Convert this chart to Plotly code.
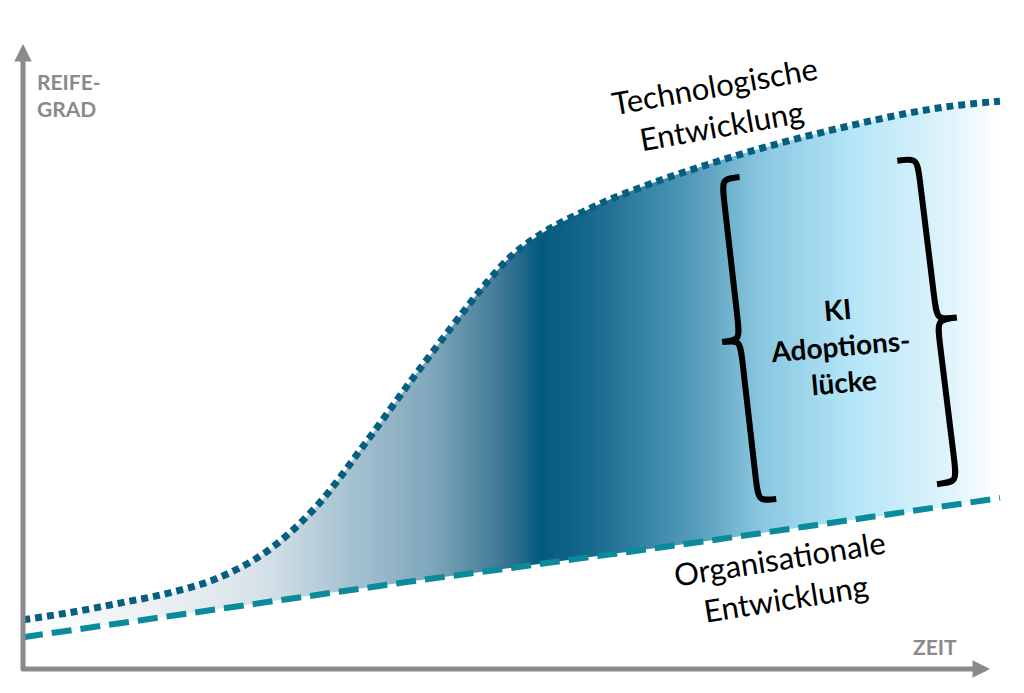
import numpy as np
import plotly.graph_objects as go

# Zeit (0-100) und Reifegrad (0-100)
zeit = [0, 5, 10, 15, 20, 25, 30, 35, 40, 45, 47.5, 50, 52.5, 55, 57.5, 60,
        65, 70, 75, 80, 85, 90, 95, 100]
tech_reife = [7.9, 9.1, 10.6, 12.2, 14.6, 18.9, 26.0, 36.1, 46.8, 57.1, 62.0, 66.2, 69.2, 71.5,
              73.4, 75.2, 78.2, 80.8, 83.2, 85.3, 87.2, 88.9, 90.2, 91.0]
org_zeit = [0, 10, 20, 30, 40, 50, 60, 70, 80, 90, 100]
org_reife = [5.1, 7.4, 9.6, 11.9, 14.1, 16.2, 18.3, 20.5, 22.8, 25.0, 27.4]

# Farbverlauf der Lücke (Position 0-1 entlang der Zeit)
verlauf = [[0.0, '#ffffff'], [0.10, '#f0f4f6'], [0.20, '#e1e9ee'], [0.25, '#d3e0e7'],
           [0.33, '#a8c4d3'], [0.42, '#7ea6bb'], [0.49, '#3f7895'], [0.53, '#045a7e'],
           [0.58, '#17688d'], [0.65, '#3d8aab'], [0.70, '#5fa3c0'], [0.75, '#86c4de'],
           [0.85, '#b4e6f8'], [0.95, '#e0f4fb'], [1.0, '#ffffff']]

W, H = 1024, 693
RAND = 8                        # Seitenrand des Browsers
X0_PX, Y0_PX = 23, 669          # Ursprung der Achsen in Pixeln (Bildschirm)
SX, SY = 9.77, 6.24             # Pixel je Einheit


def pos(px, py):
    return (px - X0_PX) / SX, (Y0_PX - py) / SY


def klammer(cx, cy, h, w, winkel, seite):
    # geschweifte Klammer als SVG-Pfad in Datenkoordinaten
    a = np.radians(winkel)
    d = np.array([np.sin(a), np.cos(a)])
    n = np.array([np.cos(a), -np.sin(a)]) * seite
    r = 26

    def p(u, v):
        q = np.array([cx, cy]) + u * n + v * d
        t, m = pos(q[0], q[1])
        return f'{t:.3f},{m:.3f}'

    return (f'M{p(w, -h)} C{p(0, -h)} {p(0, -h)} {p(0, -h + r)} L{p(0, -r)} '
            f'C{p(0, 0)} {p(0, 0)} {p(-w, 0)} C{p(0, 0)} {p(0, 0)} {p(0, r)} '
            f'L{p(0, h - r)} C{p(0, h)} {p(0, h)} {p(w, h)}')


fig = go.Figure()

# Fläche zwischen den Kurven
fig.add_trace(go.Scatter(x=org_zeit, y=org_reife, mode='lines', line=dict(width=0),
                         hoverinfo='skip', showlegend=False))
fig.add_trace(go.Scatter(x=zeit, y=tech_reife, mode='lines', line=dict(width=0, shape='spline'),
                         fill='tonexty',
                         fillgradient=dict(type='horizontal', colorscale=verlauf, start=0, stop=100),
                         hoverinfo='skip', showlegend=False))

# Linien
fig.add_trace(go.Scatter(x=org_zeit, y=org_reife, mode='lines',
                         line=dict(color='#0a8a9a', width=6, dash='20px,9px'),
                         showlegend=False))
fig.add_trace(go.Scatter(x=zeit, y=tech_reife, mode='lines',
                         line=dict(color='#065e81', width=7, dash='7px,5px', shape='spline'),
                         showlegend=False))

# Achsenpfeile
grau = '#8a8a8a'
for tip, start in [(pos(X0_PX, 44), pos(X0_PX, 672)), (pos(990, Y0_PX), pos(20, Y0_PX))]:
    fig.add_annotation(x=tip[0], y=tip[1], ax=start[0], ay=start[1], axref='x', ayref='y',
                       xref='x', yref='y', text='', showarrow=True, arrowhead=2,
                       arrowsize=0.7, arrowwidth=5, arrowcolor=grau)

fig.add_shape(type='path', path=klammer(740, 340, 162, 18, 6.5, 1),
              line=dict(color='black', width=6))
fig.add_shape(type='path', path=klammer(937, 320, 163, 20, 7, -1),
              line=dict(color='black', width=6))

schrift = 'Lato'
tx, ty = pos(35, 95)
fig.add_annotation(x=tx, y=ty, text='<b>REIFE-<br>GRAD</b>', showarrow=False, xanchor='left',
                   align='left', font=dict(family=schrift, size=21, color=grau))
tx, ty = pos(935, 646)
fig.add_annotation(x=tx, y=ty, text='<b>ZEIT</b>', showarrow=False,
                   font=dict(family=schrift, size=21, color=grau))
tx, ty = pos(718, 105)
fig.add_annotation(x=tx, y=ty, text='Technologische<br>Entwicklung', showarrow=False,
                   textangle=-10, font=dict(family=schrift, size=31, color='black'))
tx, ty = pos(782, 578)
fig.add_annotation(x=tx, y=ty, text='Organisationale<br>Entwicklung', showarrow=False,
                   textangle=-9, font=dict(family=schrift, size=31, color='black'))
tx, ty = pos(840, 345)
fig.add_annotation(x=tx, y=ty, text='<b>KI<br>Adoptions-<br>lücke</b>', showarrow=False,
                   textangle=-5, font=dict(family=schrift, size=28, color='black'))

fig.update_layout(
    width=W, height=H,
    margin=dict(l=0, r=0, t=0, b=0),
    plot_bgcolor='white', paper_bgcolor='white',
    xaxis=dict(range=[pos(RAND, 0)[0], pos(RAND + W, 0)[0]], visible=False),
    yaxis=dict(range=[pos(0, RAND + H)[1], pos(0, RAND)[1]], visible=False),
)

fig.write_html('out.html')
